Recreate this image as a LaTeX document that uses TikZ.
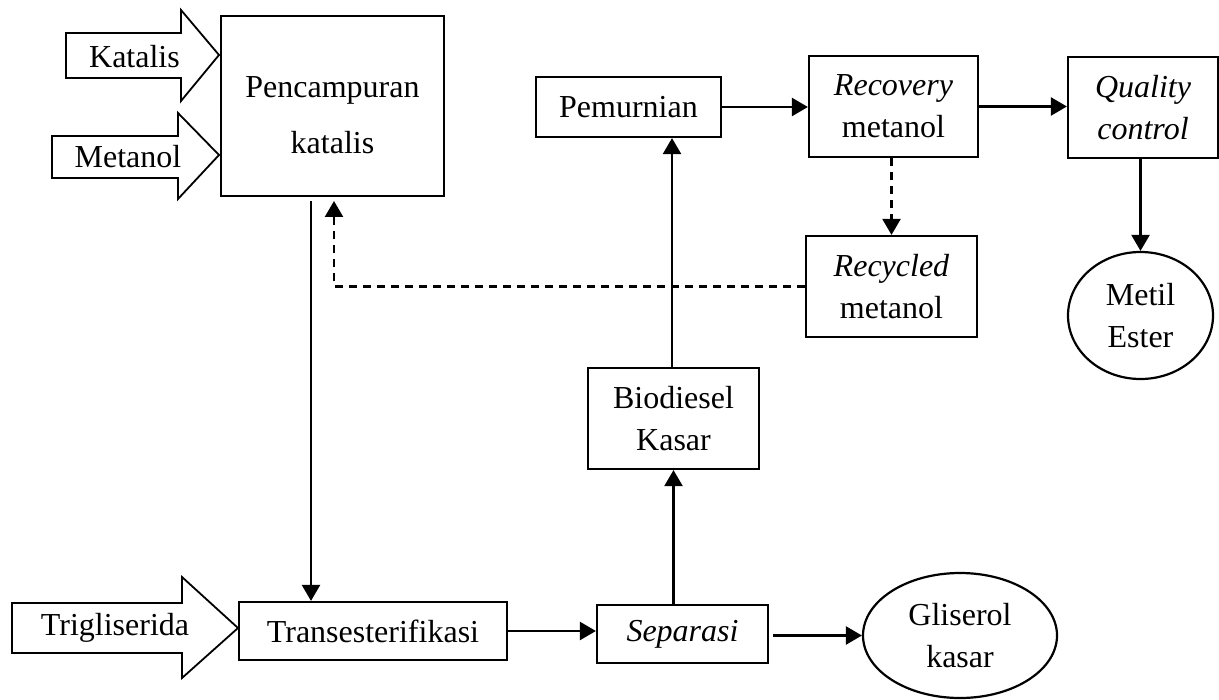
\documentclass[tikz,border=0pt]{standalone}
\usepackage{fontspec}
\setmainfont{Liberation Serif}
\usetikzlibrary{arrows.meta,shapes.geometric}
\begin{document}
\begin{tikzpicture}[x=0.5pt,y=-0.5pt,
  every node/.style={font=\fontsize{16}{21}\selectfont, inner sep=0pt},
  box/.style={draw, line width=1.1pt, rectangle, align=center},
  oval/.style={draw, line width=1.1pt, ellipse, align=center},
  arr/.style={line width=1.2pt, -{Triangle[length=8pt,width=9pt]}},
  dsh/.style={dash pattern=on 4pt off 3pt},
  blockarrow/.style={draw, line width=0.9pt, fill=white}
]
\useasboundingbox (0,0) rectangle (1219,700);

% block arrows
\draw[blockarrow] (66,33) -- (181,33) -- (181,10) -- (219,55) -- (181,101) -- (181,78) -- (66,78) -- cycle;
\node (katalis) at (134.5,57) {Katalis};
\draw[blockarrow] (52,136) -- (178,136) -- (178,113) -- (219,155) -- (178,199) -- (178,178) -- (52,178) -- cycle;
\node (metanol) at (128,157) {Metanol};
\draw[blockarrow] (12,603) -- (182,603) -- (182,577) -- (238,628) -- (182,678) -- (182,653) -- (12,653) -- cycle;
\node (trig) at (115,628) {Trigliserida};

% boxes
\node[box, minimum width=111.5pt, minimum height=90pt] (pc) at (332.5,106) {};
\node[align=center] (pctext) at (332.5,115) {Pencampuran\\[7pt]katalis};
\node[box, minimum width=92.5pt, minimum height=30pt] (pem) at (628.5,107) {Pemurnian};
\node[box, minimum width=84.5pt, minimum height=50.5pt] (rec) at (893.5,106.5) {\textit{Recovery}\\metanol};
\node[box, minimum width=75pt, minimum height=50.5pt] (qc) at (1143,107.5) {\textit{Quality}\\\textit{control}};
\node[box, minimum width=85.5pt, minimum height=50.5pt] (rcy) at (891.5,286.5) {\textit{Recycled}\\metanol};
\node[box, minimum width=85.5pt, minimum height=50.5pt] (bk) at (673.5,418.5) {Biodiesel\\Kasar};
\node[box, minimum width=134pt, minimum height=29pt] (tr) at (373,631) {Transesterifikasi};
\node[box, minimum width=85.5pt, minimum height=29pt] (sep) at (682.5,634) {\textit{Separasi}};
\node[oval, minimum width=97pt, minimum height=62.5pt] (gl) at (960,635.5) {Gliserol\\kasar};
\node[oval, minimum width=72.5pt, minimum height=63.5pt] (me) at (1140.5,315.5) {Metil\\Ester};

% connectors
\coordinate (a1) at (311,201);
\coordinate (a2) at (334,201);
\draw[arr] (a1) -- (a1 |- tr.north);
\draw[arr,dsh] (rcy.west) -| (a2);
\draw[arr] (tr.east) -- (tr.east -| sep.west);
\draw[arr] ([xshift=2pt]sep.east |- gl.west) -- (gl.west);
\draw[arr] (sep.north -| bk.south) -- (bk.south);
\draw[arr] ([xshift=-0.75pt]bk.north) -- ([xshift=-0.75pt]bk.north |- pem.south);
\draw[arr] (pem.east) -- (pem.east -| rec.west);
\draw[arr] (rec.east) -- (rec.east -| qc.west);
\draw[arr,dsh] (rcy.north |- rec.south) -- (rcy.north);
\draw[arr] (qc.south -| me.north) -- (me.north);
\end{tikzpicture}
\end{document}
